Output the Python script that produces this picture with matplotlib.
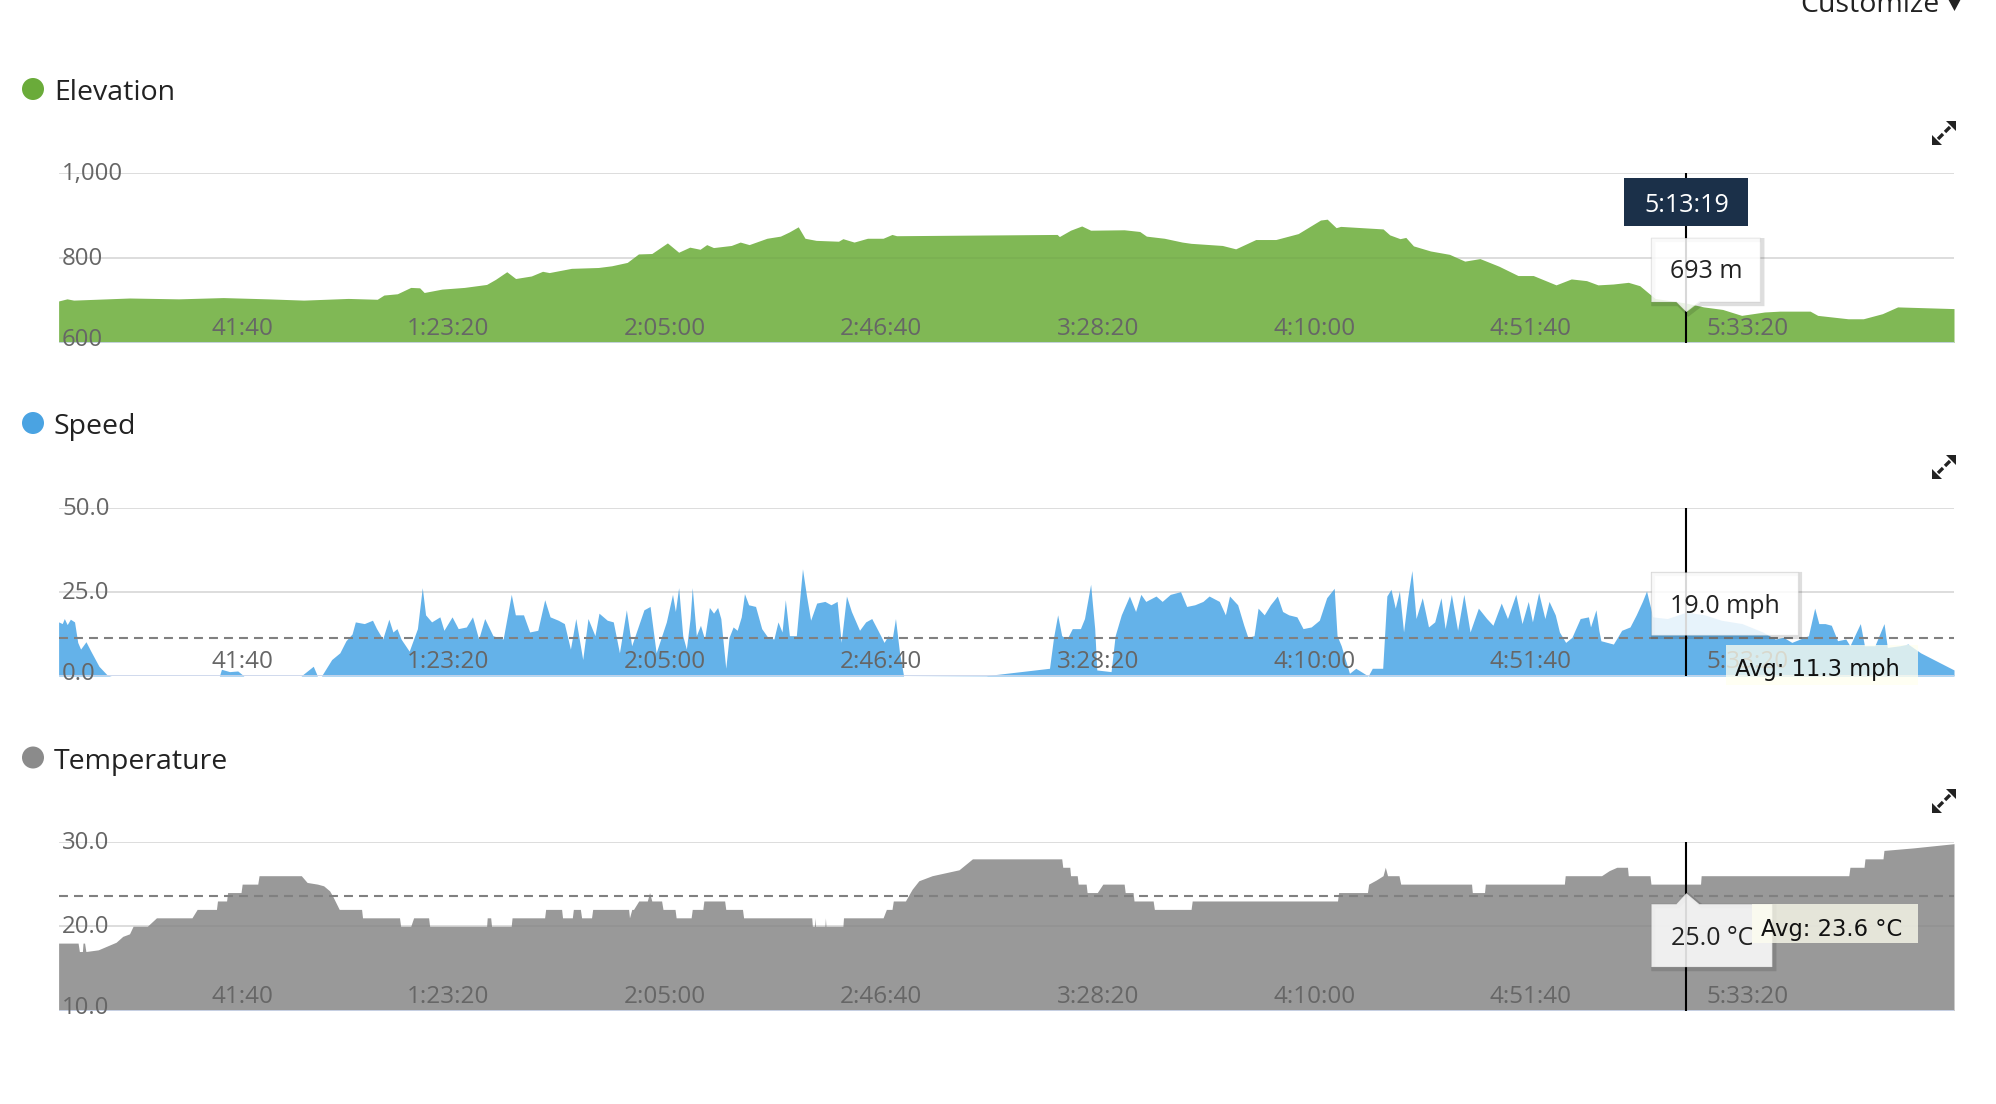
import matplotlib
matplotlib.use("Agg")
import matplotlib.pyplot as plt
from matplotlib.patches import Rectangle, Circle, Polygon
from matplotlib.transforms import offset_copy, blended_transform_factory

plt.rcParams['font.family'] = ['Open Sans', 'DejaVu Sans']

W, H = 1996, 1104

# x axis: elapsed time in seconds
x_ticks = [2500, 5000, 7500, 10000, 12500, 15000, 17500, 20000]
x_labels = ['41:40', '1:23:20', '2:05:00', '2:46:40', '3:28:20', '4:10:00', '4:51:40', '5:33:20']
t_end = 21890
cursor_t = 18799
cursor_label = '5:13:19'

# elevation (m)
elev_t = [0, 97, 174, 819, 1386, 1901, 2417, 2830, 3345, 3680,
          3757, 3912, 4067, 4170, 4222, 4428, 4686, 4943, 5046, 5176,
          5278, 5460, 5589, 5666, 5923, 6233, 6387, 6567, 6697, 6851,
          7031, 7161, 7289, 7408, 7485, 7563, 7769, 7872, 7975, 8181,
          8336, 8388, 8439, 8542, 8620, 8749, 9007, 9058, 9187, 9342,
          9522, 9625, 9677, 11532, 11558, 11687, 11816, 11919, 12306, 12486,
          12563, 12770, 12976, 13079, 13440, 13594, 13826, 14058, 14316, 14574,
          14651, 14754, 14806, 15296, 15373, 15492, 15559, 15647, 15844, 16064,
          16240, 16415, 16635, 16855, 17031, 17294, 17470, 17646, 17778, 17953,
          18129, 18261, 18437, 18568, 18799, 18998, 19218, 19437, 19701, 19877,
          20228, 20316, 20667, 20843, 21063, 21239, 21890]
elev_m = [698, 703, 700, 705, 703, 706, 703, 700, 704, 702,
          712, 715, 730, 729, 718, 726, 730, 737, 749, 767,
          751, 757, 768, 765, 775, 777, 781, 789, 809, 810,
          835, 813, 825, 820, 831, 824, 829, 837, 831, 846,
          851, 856, 861, 873, 846, 841, 839, 845, 837, 846,
          846, 855, 852, 855, 850, 865, 875, 865, 866, 862,
          851, 846, 837, 834, 829, 821, 843, 843, 857, 889,
          891, 871, 874, 868, 854, 845, 848, 828, 816, 808,
          792, 798, 780, 758, 758, 736, 750, 746, 736, 738,
          742, 734, 704, 700, 693, 684, 678, 664, 672, 674,
          674, 664, 656, 656, 668, 684, 680]
elev_ticks = [600, 800, 1000]
elev_labels = ['600', '800', '1,000']
elev_cursor = 693

# speed (mph)
speed_t = [0, 42, 66, 99, 136, 184, 221, 254, 316, 372,
           466, 561, 608, 1857, 1881, 1975, 2069, 2140, 2800, 2941,
           2989, 3036, 3154, 3248, 3319, 3389, 3427, 3531, 3625, 3672,
           3743, 3814, 3861, 3908, 3955, 4049, 4144, 4200, 4238, 4308,
           4403, 4450, 4544, 4615, 4709, 4780, 4851, 4921, 5016, 5134,
           5228, 5275, 5369, 5440, 5534, 5614, 5676, 5770, 5841, 5911,
           5973, 6053, 6114, 6194, 6241, 6336, 6406, 6477, 6557, 6618,
           6760, 6831, 6901, 7019, 7090, 7123, 7161, 7208, 7250, 7293,
           7318, 7365, 7413, 7460, 7516, 7564, 7611, 7648, 7705, 7743,
           7790, 7837, 7884, 7921, 7969, 8049, 8120, 8191, 8261, 8308,
           8355, 8393, 8440, 8520, 8591, 8638, 8685, 8755, 8850, 8920,
           8991, 9038, 9099, 9156, 9250, 9321, 9391, 9462, 9533, 9580,
           9627, 9665, 9712, 9759, 10713, 11444, 11491, 11538, 11585, 11646,
           11707, 11801, 11848, 11919, 11966, 11990, 12155, 12202, 12273, 12367,
           12438, 12499, 12556, 12674, 12745, 12839, 12957, 13028, 13122, 13216,
           13287, 13405, 13475, 13523, 13617, 13688, 13735, 13806, 13853, 13924,
           13995, 14075, 14136, 14207, 14301, 14372, 14466, 14560, 14645, 14732,
           14765, 14813, 14908, 14981, 15124, 15172, 15292, 15340, 15388, 15437,
           15485, 15533, 15581, 15629, 15677, 15749, 15821, 15893, 15965, 16013,
           16085, 16157, 16229, 16301, 16397, 16493, 16565, 16661, 16733, 16829,
           16901, 16973, 17021, 17093, 17165, 17213, 17285, 17333, 17405, 17477,
           17573, 17668, 17692, 17755, 17788, 17812, 17956, 18052, 18148, 18220,
           18291, 18339, 18411, 18579, 18799, 19010, 19202, 19442, 19681, 19825,
           19921, 20017, 20209, 20281, 20329, 20401, 20473, 20545, 20640, 20688,
           20808, 20856, 20976, 21082, 21120, 21264, 21360, 21504, 21890]
speed_mph = [16.1, 15.6, 17.1, 15.3, 16.9, 16.1, 10.0, 8.0, 10.2, 7.4,
             2.9, 0.3, 0, 0, 2.0, 1.3, 1.5, 0, 0, 2.9,
             0, 0, 4.9, 6.9, 10.5, 12.5, 16.1, 15.6, 16.6, 14.1,
             11.0, 16.9, 13.1, 14.1, 11.0, 7.4, 14.1, 26.3, 18.2, 16.1,
             17.6, 13.6, 17.6, 14.1, 14.6, 17.6, 11.0, 17.1, 12.0, 11.0,
             24.3, 18.2, 18.2, 13.1, 13.6, 22.7, 17.6, 16.6, 15.6, 8.0,
             17.1, 4.9, 17.1, 12.0, 18.7, 16.6, 16.1, 6.9, 19.7, 9.0,
             19.7, 20.7, 6.9, 16.1, 24.3, 19.2, 26.3, 12.0, 8.0, 17.1,
             26.3, 12.0, 15.1, 11.0, 20.4, 18.7, 20.4, 17.1, 2.3, 11.5,
             14.6, 13.6, 17.6, 24.5, 21.2, 20.7, 14.1, 11.5, 11.0, 16.1,
             13.1, 22.7, 12.0, 12.0, 31.9, 23.8, 16.6, 21.7, 22.2, 21.2,
             22.2, 10.0, 23.8, 19.2, 13.6, 16.1, 17.1, 13.6, 10.0, 12.0,
             11.0, 17.1, 6.9, 0, 0.1, 2.3, 11.5, 18.2, 12.0, 11.0,
             14.1, 14.1, 17.1, 27.3, 14.1, 1.8, 1.3, 12.0, 18.2, 23.8,
             19.2, 24.3, 22.2, 23.8, 22.2, 24.3, 25.1, 20.7, 21.2, 22.2,
             23.8, 22.2, 18.2, 23.8, 21.2, 15.1, 11.5, 12.0, 20.2, 18.2,
             21.2, 23.8, 19.2, 18.2, 17.6, 14.1, 14.6, 16.6, 23.3, 26.1,
             12.0, 9.0, 0.8, 2.3, 0, 2.3, 2.3, 23.8, 25.8, 20.2,
             25.3, 13.1, 23.3, 31.4, 17.1, 23.3, 14.6, 16.1, 23.3, 14.1,
             24.3, 13.6, 24.3, 13.1, 20.2, 17.1, 15.1, 21.7, 17.1, 24.3,
             15.6, 22.2, 16.1, 24.8, 17.1, 22.2, 18.2, 13.1, 10.0, 11.5,
             17.1, 17.6, 14.6, 19.7, 13.6, 10.5, 9.5, 13.6, 14.6, 18.2,
             22.2, 25.3, 17.6, 17.1, 19.0, 18.2, 16.6, 15.6, 13.1, 11.0,
             11.5, 10.0, 12.0, 20.2, 15.6, 15.6, 15.1, 10.5, 11.0, 9.0,
             15.6, 9.0, 9.0, 15.6, 8.5, 9.0, 9.5, 6.9, 1.8]
speed_ticks = [0, 25, 50]
speed_labels = ['0.0', '25.0', '50.0']
speed_avg = 11.3
speed_cursor = 19.0

# temperature (C)
temp_t = [0, 225, 240, 275, 282, 300, 315, 458, 664, 741,
          819, 860, 1025, 1130, 1540, 1600, 1823, 1835, 1940, 1952,
          2107, 2120, 2300, 2315, 2803, 2870, 2990, 3061, 3130, 3164,
          3241, 3499, 3510, 3937, 3950, 4067, 4100, 4273, 4285, 4943,
          4950, 4990, 5000, 5227, 5237, 5613, 5625, 5809, 5820, 5933,
          5945, 6026, 6040, 6155, 6168, 6583, 6593, 6620, 6640, 6700,
          6799, 6825, 6851, 6964, 6980, 7119, 7132, 7305, 7318, 7440,
          7452, 7692, 7705, 7898, 7911, 8698, 8705, 8730, 8735, 8742,
          8850, 8856, 8862, 9058, 9065, 9522, 9560, 9625, 9640, 9780,
          9858, 9935, 10089, 10399, 10554, 11585, 11597, 11678, 11687, 11764,
          11775, 11867, 11878, 11996, 12060, 12306, 12318, 12409, 12420, 12641,
          12655, 13079, 13092, 14770, 14783, 15116, 15130, 15219, 15296, 15322,
          15348, 15480, 15500, 16318, 16327, 16468, 16477, 17390, 17400, 17820,
          17908, 17996, 18119, 18128, 18379, 18390, 18963, 18970, 20675, 20688,
          20851, 20862, 21070, 21081, 21421, 21890]
temp_c = [18, 18, 17, 17, 18, 18, 17, 17.2, 18.1, 18.8,
          19.1, 20, 20, 21, 21, 22, 22, 23, 23, 24,
          24, 25, 25, 26, 26, 25.2, 25, 24.8, 24.2, 23.6,
          22, 22, 21, 21, 20, 20, 21, 21, 20, 20,
          21, 21, 20, 20, 21, 21, 22, 22, 21, 21,
          22, 22, 21, 21, 22, 22, 21, 22, 22, 23,
          23, 24, 23, 23, 22, 22, 21, 21, 22, 22,
          23, 23, 22, 22, 21, 21, 20, 20, 21, 20,
          20, 21, 20, 20, 21, 21, 22, 22, 23, 23,
          24.4, 25.4, 26, 26.7, 28, 28, 27, 27, 26, 26,
          25, 25, 24, 24, 25, 25, 24, 24, 23, 23,
          22, 22, 23, 23, 24, 24, 25, 25.5, 26, 27,
          26, 26, 25, 25, 24, 24, 25, 25, 26, 26,
          26.6, 27, 27, 26, 26, 25, 25, 26, 26, 27,
          27, 28, 28, 29, 29.3, 29.8]
temp_ticks = [10, 20, 30]
temp_labels = ['10.0', '20.0', '30.0']
temp_avg = 23.6
temp_cursor = 25.0

fig = plt.figure(figsize=(W / 100, H / 100), dpi=100)
PL, PR = 58.6, 1954  # plot area left / right, px


def panel(top, bottom, t, v, color, ticks, labels, avg=None):
    ax = fig.add_axes([PL / W, 1 - bottom / H, (PR - PL) / W, (bottom - top) / H])
    ax.set_xlim(0, t_end)
    ax.set_ylim(ticks[0], ticks[-1])
    ax.axis('off')
    ax.fill_between(t, v, ticks[0], color=color, lw=0, zorder=2)
    for yv, lab in zip(ticks, labels):
        if yv != ticks[0]:
            # light grid under the area, faint trace of it over the area
            ax.axhline(yv, color='#e6e6e6', lw=1.4, zorder=1)
            ax.axhline(yv, color='black', alpha=0.035, lw=1.4, zorder=3)
        dy = -4 if yv == ticks[0] else -7
        ylab = offset_copy(ax.transData, fig=fig, x=3.5, y=dy, units='dots')
        ax.text(0, yv, lab, transform=ylab, ha='left', va='baseline',
                fontsize=17.3, color='#666666', zorder=5)
    ax.axhline(ticks[0], color='#ccd6eb', lw=2, zorder=4)
    xlab = offset_copy(blended_transform_factory(ax.transData, ax.transAxes),
                       fig=fig, x=-2, y=7.5, units='dots')
    for xt, lab in zip(x_ticks, x_labels):
        ax.text(xt, 0, lab, transform=xlab, ha='right', va='baseline',
                fontsize=17.5, color='#666666', zorder=5)
    if avg is not None:
        ax.axhline(avg, color='#808080', lw=1.5, dashes=(4.3, 2.9), zorder=4)
    ax.axvline(cursor_t, color='black', lw=1.5, zorder=6)
    return ax


ax_e = panel(173, 342.5, elev_t, elev_m, '#80b855', elev_ticks, elev_labels)
ax_s = panel(508, 676, speed_t, speed_mph, '#64b2e9', speed_ticks, speed_labels, speed_avg)
ax_t = panel(842, 1010.5, temp_t, temp_c, '#999999', temp_ticks, temp_labels, temp_avg)

# overlay in pixel coordinates (y down) for titles, icons, tooltips
ov = fig.add_axes([0, 0, 1, 1])
ov.set_xlim(0, W)
ov.set_ylim(H, 0)
ov.axis('off')


def to_px(ax, x, y):
    dx, dy = ax.transData.transform((x, y))
    return dx, H - dy


for cy, name, col in [(89, 'Elevation', '#6aab3a'), (423, 'Speed', '#4aa3e2'),
                      (757.5, 'Temperature', '#8b8b8b')]:
    ov.add_patch(Circle((33, cy), 11, fc=col, ec='none'))
    ov.text(54, cy + 11, name, fontsize=20.5, color='#222222', ha='left', va='baseline')


def expand_icon(cx, cy):
    s = 12
    ov.add_patch(Polygon([(cx + s, cy - s), (cx + s, cy - 2), (cx + 2, cy - s)], fc='#222222', ec='none'))
    ov.add_patch(Polygon([(cx - s, cy + s), (cx - s, cy + 2), (cx - 2, cy + s)], fc='#222222', ec='none'))
    ov.plot([cx + 6, cx + 1], [cy - 6, cy - 1], color='#222222', lw=2.4, solid_capstyle='butt')
    ov.plot([cx - 6, cx - 1], [cy + 6, cy + 1], color='#222222', lw=2.4, solid_capstyle='butt')


for cy in (133, 467, 801):
    expand_icon(1944, cy)

# "Customize" menu, cut by the top edge
ov.text(1940, 11.7, 'Customize', ha='right', va='baseline', fontsize=20.5, color='#222222')
ov.add_patch(Polygon([(1947, -3), (1962, -3), (1954.5, 11)], fc='#222222', ec='none'))


def callout(pts, shadow=True, alpha=0.85):
    if shadow:
        ov.add_patch(Polygon([(x + 2, y + 2) for x, y in pts], fill=False,
                             ec=(0, 0, 0, 0.13), lw=3, zorder=9))
    ov.add_patch(Polygon(pts, fc=(1, 1, 1, alpha), ec=(0, 0, 0, 0.06), lw=1, zorder=10))


# time label on top of elevation chart
cx, ey = to_px(ax_e, cursor_t, elev_cursor)
ov.add_patch(Rectangle((cx - 62, 178), 124, 48, fc='#1b3049', ec='none', zorder=11))
ov.text(cx, 212, cursor_label, color='white', ha='center', va='baseline', fontsize=18, zorder=12)

# elevation tooltip (pointer down)
l, r, t, b = cx - 35, cx + 74, ey - 65, ey - 1
callout([(l, t), (r, t), (r, b), (cx + 13, b), (cx, ey + 9), (cx - 10, b), (l, b)])
ov.text((l + r) / 2, ey - 25, f'{elev_cursor:.0f} m', ha='center', va='baseline',
        fontsize=18, color='#222222', zorder=12)

# speed tooltip
_, sy = to_px(ax_s, cursor_t, speed_cursor)
l, r, t, b = cx - 35, cx + 112, sy - 40, sy + 23
callout([(l, t), (r, t), (r, b), (l, b)])
ov.text((l + r) / 2, sy + 1, f'{speed_cursor:.1f} mph', ha='center', va='baseline',
        fontsize=18, color='#222222', zorder=12)

# temperature tooltip (pointer up)
_, ty = to_px(ax_t, cursor_t, temp_cursor)
l, r, t, b = cx - 35, cx + 86, ty + 20, ty + 83
callout([(l, t), (cx - 10, t), (cx, ty + 9), (cx + 13, t), (r, t), (r, b), (l, b)])
ov.text((l + r) / 2, ty + 61, f'{temp_cursor:.1f} °C', ha='center', va='baseline',
        fontsize=18, color='#222222', zorder=12)


def avg_label(ax, avg, text, left, width, height, dy_box, dy_text):
    _, ay = to_px(ax, 0, avg)
    ov.add_patch(Rectangle((left, ay + dy_box), width, height, fc=(1, 1, 0.94, 0.75),
                           ec='none', zorder=13))
    ov.text(left + 9, ay + dy_text, text, ha='left', va='baseline', fontsize=16.3,
            family='DejaVu Sans', color='#111111', zorder=14)


avg_label(ax_s, speed_avg, f'Avg: {speed_avg} mph', 1726, 192, 40, 7, 38)
avg_label(ax_t, temp_avg, f'Avg: {temp_avg} °C', 1752, 166, 39, 8.5, 40.5)

fig.savefig('out.png', dpi=100)
